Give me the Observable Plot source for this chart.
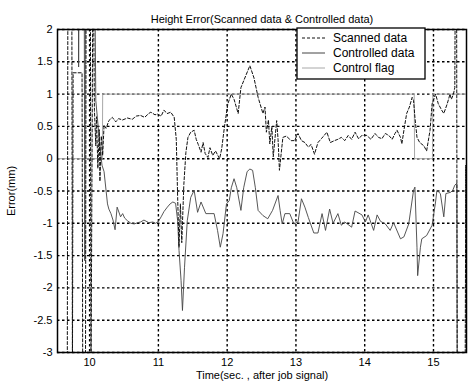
<!DOCTYPE html>
<html>
<head>
<meta charset="utf-8">
<script src="https://cdn.jsdelivr.net/npm/d3@7"></script>
<script src="https://cdn.jsdelivr.net/npm/@observablehq/plot@0.6"></script>
<style>
  html, body { margin: 0; padding: 0; background: white; }
  #chart { width: 469px; height: 389px; }
</style>
</head>
<body>
<div id="chart"></div>
<script>
const titleText = "Height Error(Scanned data & Controlled data)";
const xLabel = "Time(sec. , after job signal)";
const yLabel = "Error(mm)";
const xTicks = [10, 11, 12, 13, 14, 15];
const yTicks = [2, 1.5, 1, 0.5, 0, -0.5, -1, -1.5, -2, -2.5, -3];
const seriesNames = ["Scanned data", "Controlled data", "Control flag"];

const scannedT = [9.533,9.675,9.685,9.74,9.75,9.76,9.89,9.90,9.94,9.95,10.01,10.02,10.05,10.07,10.09,10.10,10.12,10.14,10.15,10.17,10.19,10.21,10.24,10.28,10.33,10.38,10.42,10.48,10.55,10.62,10.68,10.74,10.80,10.86,10.89,10.95,10.99,11.04,11.08,11.13,11.18,11.23,11.26,11.28,11.30,11.32,11.34,11.37,11.40,11.43,11.47,11.52,11.55,11.58,11.62,11.65,11.68,11.72,11.75,11.79,11.83,11.89,11.92,11.96,12.01,12.06,12.10,12.16,12.20,12.28,12.33,12.39,12.45,12.52,12.55,12.57,12.60,12.62,12.65,12.67,12.72,12.74,12.76,12.81,12.86,12.93,12.98,13.03,13.08,13.13,13.18,13.22,13.27,13.32,13.37,13.45,13.50,13.56,13.61,13.66,13.71,13.76,13.81,13.86,13.91,13.96,14.03,14.09,14.15,14.20,14.25,14.30,14.35,14.40,14.44,14.47,14.52,14.54,14.57,14.61,14.65,14.69,14.71,14.73,14.76,14.80,14.86,14.90,14.95,14.98,15.03,15.07,15.12,15.15,15.20,15.24,15.26,15.29,15.31,15.32,15.335,15.345,15.46,15.47,15.48];
const scannedV = [-3.5,-3.5,3.5,3.5,-3.5,1.33,1.33,-3.5,-3.5,3.5,3.5,-3.5,3.5,0.75,0.2,0.65,-0.15,0.45,-0.35,0.35,0.05,0.52,0.47,0.59,0.64,0.57,0.62,0.60,0.63,0.61,0.66,0.67,0.64,0.70,0.72,0.68,0.69,0.66,0.75,0.70,0.72,0.64,0.30,-0.60,-1.37,-0.70,-1.30,-0.40,0.10,0.33,0.41,0.44,0.30,0.22,0.10,0.25,0.08,0.02,0.17,0.05,0.12,0.00,0.15,0.49,0.85,1.00,0.92,0.70,1.10,1.31,1.44,1.25,0.95,0.70,0.80,0.41,0.60,0.23,0.50,0.03,0.59,0.30,-0.18,0.33,0.35,0.28,0.28,0.39,0.28,0.25,0.18,0.22,0.07,0.25,0.31,0.41,0.25,0.28,0.30,0.33,0.28,0.36,0.30,0.41,0.31,0.36,0.36,0.30,0.39,0.33,0.31,0.39,0.36,0.30,0.39,0.44,0.33,0.23,0.44,0.70,0.80,0.95,0.90,0.64,0.33,0.25,0.20,0.12,0.44,0.85,1.00,0.85,0.75,0.70,0.85,1.00,0.92,1.00,1.10,3.5,3.5,-3.5,-3.5,-0.1,-3.5];

const controlledT = [9.533,9.835,9.84,9.85,9.92,9.93,9.94,10.07,10.09,10.12,10.15,10.18,10.21,10.24,10.26,10.28,10.31,10.34,10.37,10.40,10.45,10.48,10.51,10.55,10.60,10.65,10.70,10.74,10.79,10.86,10.92,10.96,11.00,11.04,11.08,11.13,11.17,11.21,11.25,11.28,11.30,11.33,11.35,11.38,11.42,11.47,11.52,11.57,11.62,11.69,11.75,11.81,11.86,11.90,11.94,11.99,12.03,12.06,12.10,12.14,12.20,12.24,12.29,12.33,12.37,12.41,12.45,12.52,12.59,12.66,12.74,12.77,12.80,12.84,12.91,12.97,13.03,13.08,13.13,13.18,13.26,13.32,13.38,13.43,13.49,13.54,13.61,13.66,13.71,13.81,13.86,13.96,14.01,14.05,14.13,14.18,14.23,14.30,14.37,14.42,14.52,14.57,14.64,14.71,14.73,14.76,14.77,14.81,14.83,14.90,14.98,15.03,15.05,15.10,15.15,15.18,15.25,15.28,15.31,15.34,15.345];
const controlledV = [3.5,3.5,1.42,3.5,3.5,-1.58,3.5,3.5,0.9,0.55,0.2,-0.1,-0.2,-0.5,-0.7,-0.78,-0.85,-0.95,-1.10,-0.75,-0.90,-0.85,-0.92,-0.96,-1.00,-1.01,-0.99,-0.98,-0.95,-0.99,-0.98,-1.00,-0.97,-0.90,-0.82,-0.75,-0.70,-0.67,-0.69,-0.96,-1.42,-1.89,-2.35,-1.68,-0.96,-0.60,-0.49,-0.83,-0.67,-0.85,-0.85,-0.85,-1.11,-1.37,-1.16,-0.70,-0.65,-0.45,-0.31,-0.45,-0.80,-0.45,-0.20,-0.16,-0.18,-0.45,-0.80,-0.88,-0.93,-0.80,-0.57,-0.80,-1.01,-0.85,-0.85,-1.01,-0.98,-0.62,-0.75,-0.91,-1.15,-1.15,-0.85,-1.11,-0.78,-1.00,-0.85,-1.03,-0.98,-1.06,-0.81,-0.87,-0.98,-0.87,-1.11,-0.87,-0.97,-1.01,-1.11,-0.99,-1.24,-1.21,-1.01,-0.49,-0.44,-1.37,-1.81,-1.37,-1.24,-1.19,-1.03,-0.67,-0.49,-0.54,-0.90,-0.54,-0.52,-0.49,-0.41,-0.38,-3.5];

const flagT = [9.533,10.185,10.19,14.72,14.725,14.985,14.99,15.48];
const flagV = [0,0,1,1,0,0,1,1];

const toRows = (ts, vs) => ts.map((t, i) => ({t, v: vs[i]}));
const scanned = toRows(scannedT, scannedV);
const controlled = toRows(controlledT, controlledV);
const flag = toRows(flagT, flagV);

const font = "Liberation Sans, Arial, sans-serif";
const gridOpts = {stroke: "#000", strokeWidth: 1.4, strokeDasharray: "2.5 2.5"};

const chart = Plot.plot({
  width: 469,
  height: 389,
  marginLeft: 57,
  marginRight: 3,
  marginTop: 29,
  marginBottom: 37,
  style: {fontFamily: font, fontSize: "11px"},
  x: {domain: [9.533, 15.48]},
  y: {domain: [-3, 2]},
  marks: [
    Plot.ruleX(xTicks, gridOpts),
    Plot.ruleY(yTicks, gridOpts),
    Plot.line(flag, {x: "t", y: "v", stroke: "#a8a8a8", strokeWidth: 1, clip: true}),
    Plot.line(controlled, {x: "t", y: "v", stroke: "#444", strokeWidth: 0.9, clip: true}),
    Plot.line(scanned, {x: "t", y: "v", stroke: "#111", strokeWidth: 1, strokeDasharray: "3,2", clip: true}),
    Plot.frame({stroke: "black", strokeWidth: 1.5}),
    Plot.axisX(xTicks, {anchor: "bottom", tickSize: 0, tickPadding: 6, tickFormat: d => String(d), label: null}),
    Plot.axisY(yTicks, {anchor: "left", tickSize: 0, tickPadding: 5, tickFormat: d => String(d),
      label: yLabel, labelAnchor: "center", labelArrow: "none", labelOffset: 50}),
    Plot.text([titleText], {frameAnchor: "top", dy: -14, text: d => d, fontSize: 11}),
    Plot.text([xLabel], {frameAnchor: "bottom", dy: 26, lineAnchor: "bottom", text: d => d, fontSize: 11})
  ]
});

document.getElementById("chart").appendChild(chart);

// legend box (inside plot, upper right)
const svg = d3.select(chart);
const lg = svg.append("g").attr("font-family", font).attr("font-size", 12).attr("text-anchor", "start");
const lx = 297, ly = 28, lw = 128, lh = 51;
lg.append("rect").attr("x", lx).attr("y", ly).attr("width", lw).attr("height", lh)
  .attr("fill", "white").attr("stroke", "black").attr("stroke-width", 1.3);
const styles = [
  {stroke: "#111", dash: "3,2"},
  {stroke: "#444", dash: null},
  {stroke: "#a8a8a8", dash: null}
];
seriesNames.forEach((name, i) => {
  const cy = ly + 10 + i * 15;
  lg.append("line").attr("x1", lx + 5).attr("x2", lx + 28).attr("y1", cy).attr("y2", cy)
    .attr("stroke", styles[i].stroke).attr("stroke-width", 1)
    .attr("stroke-dasharray", styles[i].dash);
  lg.append("text").attr("x", lx + 36).attr("y", cy).attr("dy", "0.35em")
    .attr("text-anchor", "start").attr("fill", "black").text(name);
});
</script>
</body>
</html>
